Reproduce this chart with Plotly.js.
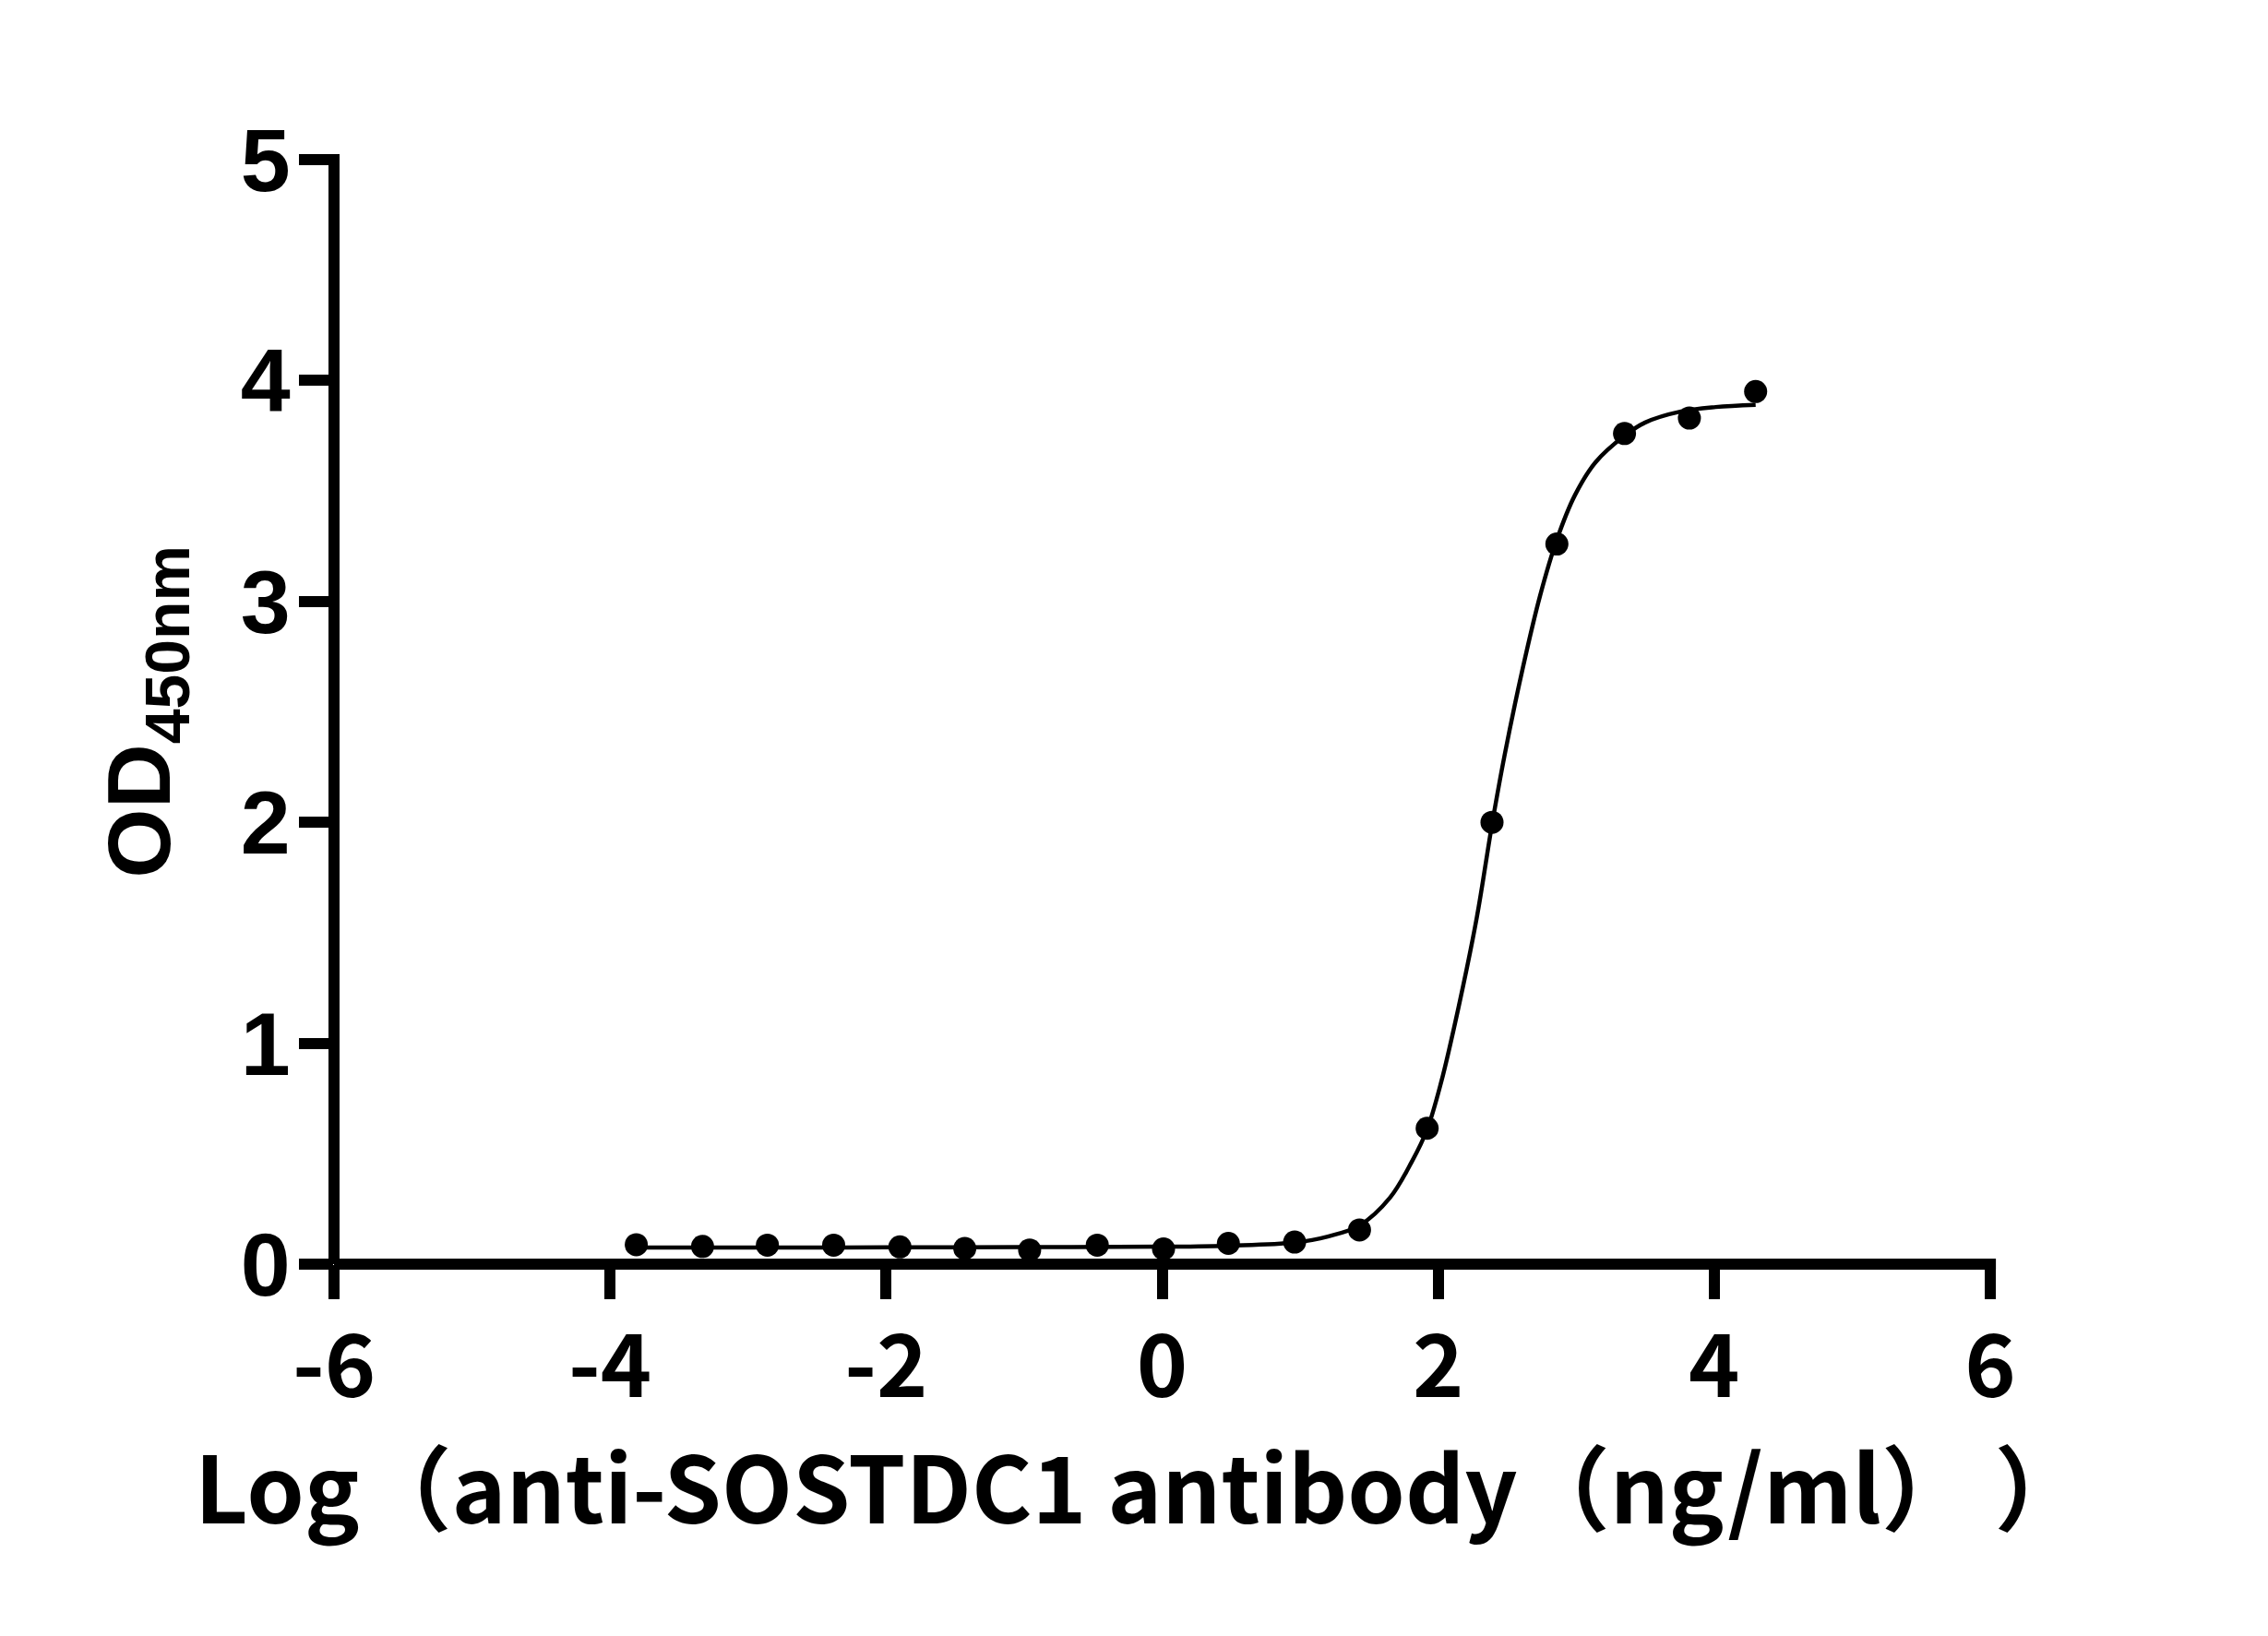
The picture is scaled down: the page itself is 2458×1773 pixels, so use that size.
<!DOCTYPE html>
<html>
<head>
<meta charset="utf-8">
<script src="https://cdn.plot.ly/plotly-3.0.1.min.js"></script>
<style>
  html, body { margin: 0; padding: 0; background: #ffffff; }
  #chart { width: 2458px; height: 1773px; }
</style>
</head>
<body>
<div id="chart"></div>
<script>
// Measured points: log10 concentration (ng/ml) vs OD450nm
const logConc = [-3.81, -3.33, -2.86, -2.38, -1.90, -1.43, -0.96, -0.47, 0.01, 0.48, 0.96, 1.43, 1.92, 2.39, 2.86, 3.35, 3.82, 4.30];
const od450 = [0.088, 0.080, 0.086, 0.086, 0.078, 0.071, 0.064, 0.086, 0.069, 0.094, 0.100, 0.155, 0.615, 2.00, 3.26, 3.76, 3.83, 3.95];

// Fitted curve
const fitX = [-3.81, -3.0, -2.0, -1.0, 0.0, 0.5, 0.96, 1.2, 1.43, 1.65, 1.81, 1.92, 2.02, 2.15, 2.28, 2.39, 2.48, 2.61, 2.74, 2.86, 2.99, 3.14, 3.35, 3.50, 3.76, 4.01, 4.30];
const fitY = [0.075, 0.075, 0.076, 0.077, 0.079, 0.084, 0.098, 0.125, 0.175, 0.30, 0.465, 0.61, 0.82, 1.17, 1.57, 1.99, 2.30, 2.69, 3.03, 3.28, 3.48, 3.63, 3.75, 3.81, 3.86, 3.88, 3.89];

// Tick labels
const xTickVals = [-6, -4, -2, 0, 2, 4, 6];
const xTickText = ["-6", "-4", "-2", "0", "2", "4", "6"];
const yTickVals = [0, 1, 2, 3, 4, 5];
const yTickText = ["0", "1", "2", "3", "4", "5"];

const xTitle = "Log（anti-SOSTDC1 antibody（ng/ml）\u00a0）";
const yTitle = "OD<sub>450nm</sub>";

const traces = [
  {
    x: fitX, y: fitY, type: "scatter", mode: "lines",
    line: { color: "#000000", width: 4.5, shape: "spline", smoothing: 1 },
    hoverinfo: "skip", showlegend: false
  },
  {
    x: logConc, y: od450, type: "scatter", mode: "markers",
    marker: { color: "#000000", size: 25, line: { width: 0 } },
    showlegend: false, cliponaxis: false
  }
];

const layout = {
  width: 2458, height: 1773,
  paper_bgcolor: "#ffffff", plot_bgcolor: "#ffffff",
  margin: { l: 362, r: 301, t: 173, b: 403, pad: 0 },
  showlegend: false,
  xaxis: {
    range: [-6, 6], tickmode: "array", tickvals: xTickVals, ticktext: xTickText,
    ticks: "outside", ticklen: 37, tickwidth: 12, tickcolor: "#000000",
    showgrid: false, zeroline: false, showline: false,
    ticklabelstandoff: -7,
    tickfont: { family: "Noto Sans CJK SC", size: 94, weight: "bold", color: "#000000" }
  },
  yaxis: {
    range: [0, 5], tickmode: "array", tickvals: yTickVals, ticktext: yTickText,
    ticks: "outside", ticklen: 37, tickwidth: 12, tickcolor: "#000000",
    showgrid: false, zeroline: false, showline: false,
    ticklabelstandoff: -10,
    tickfont: { family: "Liberation Sans", size: 97, weight: "bold", color: "#000000" },
    title: { text: yTitle, standoff: 43,
      font: { family: "Liberation Sans", size: 97, weight: "bold", color: "#000000" } }
  },
  annotations: [
    { text: xTitle, xref: "paper", yref: "paper", x: -0.0852, y: -0.1362,
      xanchor: "left", yanchor: "top", showarrow: false,
      font: { family: "Noto Sans CJK SC", size: 100, weight: "bold", color: "#000000" } }
  ],
  shapes: [
    { type: "line", xref: "paper", yref: "paper", x0: 0, x1: 1.0034, y0: 0, y1: 0,
      line: { color: "#000000", width: 12 } },
    { type: "line", xref: "paper", yref: "paper", x0: 0, x1: 0, y0: 0, y1: 1.005,
      line: { color: "#000000", width: 12 } }
  ]
};

Plotly.newPlot("chart", traces, layout, { staticPlot: true, displayModeBar: false });
</script>
</body>
</html>
